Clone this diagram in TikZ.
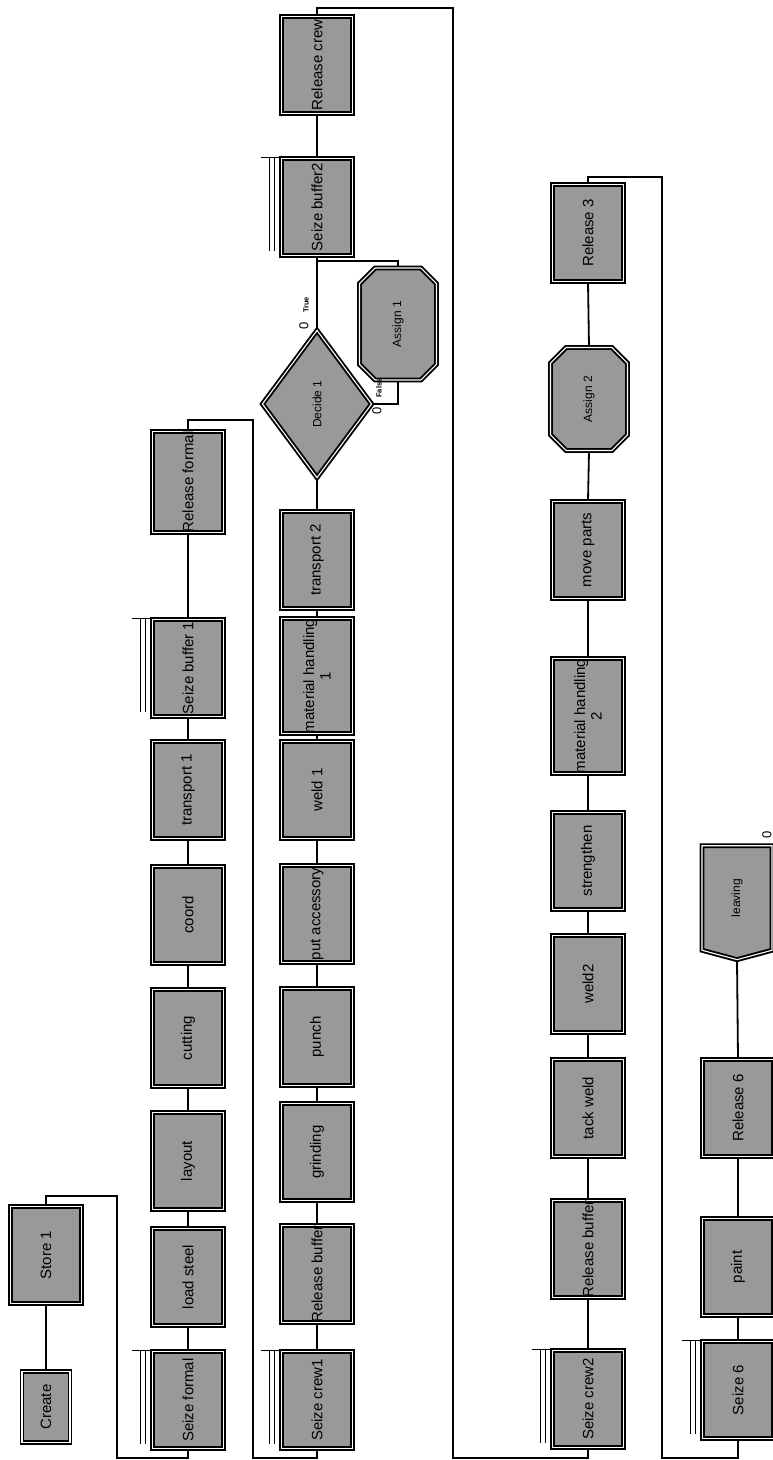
\documentclass[tikz,border=0pt]{standalone}
\usepackage{fontspec}
\setmainfont{Liberation Sans}
\usepackage{graphicx}
\usetikzlibrary{shapes.geometric,shapes.misc,shapes.symbols}
\newcommand{\vt}[1]{\rotatebox{90}{#1}}

\begin{document}
\begin{tikzpicture}[x=1pt,y=-1pt,
  mod/.style={draw=black,line width=1.9pt,double=white,double distance=1.1pt,fill=black!40,inner sep=0pt,font=\fontsize{15}{15}\selectfont},
  proc/.style={mod,minimum width=71pt,minimum height=97pt},
  small/.style={font=\fontsize{12}{12}\selectfont},
  con/.style={line width=1.8pt},
  lng/.style={line width=2.1pt},
  qln/.style={line width=1.6pt},
  cnt/.style={inner sep=0pt,font=\fontsize{13}{13}\selectfont},
  tag/.style={inner sep=0pt,font=\fontsize{7.5}{7.5}\selectfont\bfseries}]
  \useasboundingbox (0,0) rectangle (773,1460);

  % start
  \node[proc,minimum width=48pt,minimum height=71pt] (create) at (46,1407) {\vt{Create}};
  \node[proc] (store1) at (46,1255) {\vt{Store 1}};

  % column 1
  \node[proc] (sfm) at (188,1400) {\vt{Seize formal}};
  \node[proc] (ldst) at (188,1277) {\vt{load steel}};
  \node[proc] (layout) at (188,1161) {\vt{layout}};
  \node[proc] (cutting) at (188,1038) {\vt{cutting}};
  \node[proc] (coord) at (188,915) {\vt{coord}};
  \node[proc] (trans1) at (188,790) {\vt{transport 1}};
  \node[proc] (sbuf1) at (188,668) {\vt{Seize buffer 1}};
  \node[proc] (relfm) at (188,482) {\vt{Release formal}};

  % column 2
  \node[proc] (screw1) at (317,1400) {\vt{Seize crew1}};
  \node[proc] (relbuf1) at (317,1274) {\vt{Release buffer}};
  \node[proc] (grind) at (317,1152) {\vt{grinding}};
  \node[proc] (punch) at (317,1037) {\vt{punch}};
  \node[proc] (putacc) at (317,914) {\vt{put accessory}};
  \node[proc] (weld1) at (317,790) {\vt{weld 1}};
  \node[proc] (mh1) at (317,676) {\vt{\shortstack{material handling\\1}}};
  \node[proc] (trans2) at (317,560) {\vt{transport 2}};
  \node[mod,small,diamond,minimum width=110pt,minimum height=148pt] (decide) at (317,404) {\vt{Decide 1}};
  \node[mod,small,chamfered rectangle,chamfered rectangle xsep=10pt,chamfered rectangle ysep=10pt,minimum width=77pt,minimum height=112pt] (assign1) at (398,324) {\vt{Assign 1}};
  \node[proc] (sbuf2) at (317,207) {\vt{Seize buffer2}};
  \node[proc] (relcrew) at (317,65) {\vt{Release crew}};

  % column 3
  \node[proc] (screw2) at (588,1399) {\vt{Seize crew2}};
  \node[proc] (relbuf2) at (588,1249) {\vt{Release buffer}};
  \node[proc] (tack) at (588,1108) {\vt{tack weld}};
  \node[proc] (weld2) at (588,984) {\vt{weld2}};
  \node[proc] (streng) at (588,861) {\vt{strengthen}};
  \node[proc] (mh2) at (588,716) {\vt{\shortstack{material handling\\2}}};
  \node[proc] (movep) at (588,550) {\vt{move parts}};
  \node[mod,small,chamfered rectangle,chamfered rectangle xsep=10pt,chamfered rectangle ysep=10pt,minimum width=77pt,minimum height=103pt] (assign2) at (589,399) {\vt{Assign 2}};
  \node[proc] (rel3) at (588,233) {\vt{Release 3}};

  % column 4
  \node[proc] (seize6) at (738,1390) {\vt{Seize 6}};
  \node[proc] (paint) at (738,1267) {\vt{paint}};
  \node[proc] (rel6) at (738,1108) {\vt{Release 6}};
  \node[mod,small,signal,signal to=south,signal pointer angle=150,minimum width=70pt,minimum height=106pt] (leaving) at (737,898) {\vt{leaving}};

  % counters
  \node[cnt] (c0t) at (304,326) {\vt{0}};
  \node[tag] (ctrue) at (306,305) {\vt{True}};
  \node[cnt] (c0f) at (377,411) {\vt{0}};
  \node[tag] (cfalse) at (379,388) {\vt{False}};
  \node[cnt] (c0l) at (767,835) {\vt{0}};

  % queues
  \foreach \s in {sfm,sbuf1,screw1,sbuf2,screw2,seize6}
    \draw[qln] ([xshift=-20pt]\s.north west) -- (\s.north west)
      ([xshift=-11pt]\s.north west) -- ([xshift=-11pt,yshift=5pt]\s.south west)
      ([xshift=-6pt]\s.north west) -- ([xshift=-6pt,yshift=5pt]\s.south west);

  % links
  \draw[con] (create.north) -- (store1.south);
  \foreach \a/\b in {sfm/ldst,ldst/layout,layout/cutting,cutting/coord,coord/trans1,trans1/sbuf1,sbuf1/relfm,
      screw1/relbuf1,relbuf1/grind,grind/punch,punch/putacc,putacc/weld1,weld1/mh1,mh1/trans2,trans2/decide,decide/sbuf2,sbuf2/relcrew,
      screw2/relbuf2,relbuf2/tack,tack/weld2,weld2/streng,streng/mh2,mh2/movep,movep/assign2,assign2/rel3,
      seize6/paint,paint/rel6,rel6/leaving}
    \draw[con] (\a.north) -- (\b.south);
  \draw[con] (decide.east) -| (assign1.south);
  \draw[con] (assign1.north) -- ++(0,-6) -| (sbuf2.south);

  \coordinate (dA) at (117,1458);
  \coordinate (dB) at (253,1458);
  \coordinate (dC) at (453,1458);
  \coordinate (dD) at (662,1458);
  \draw[lng] (store1.north) -- ++(0,-10) -| (dA) -| (sfm.south);
  \draw[lng] (relfm.north) -- ++(0,-11) -| (dB) -| (screw1.south);
  \draw[lng] (relcrew.north) -- ++(0,-8) -| (dC) -| (screw2.south);
  \draw[lng] (rel3.north) -- ++(0,-7) -| (dD) -| (seize6.south);
\end{tikzpicture}
\end{document}
